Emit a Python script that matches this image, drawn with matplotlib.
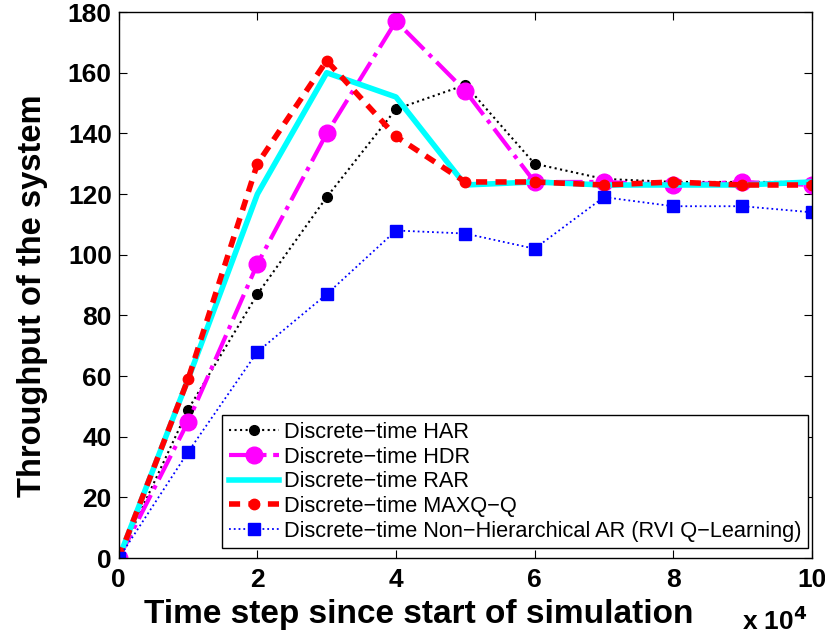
import matplotlib
matplotlib.use("Agg")
import matplotlib.pyplot as plt

plt.rcParams['font.family'] = ['Liberation Sans', 'DejaVu Sans']

steps = [0, 1, 2, 3, 4, 5, 6, 7, 8, 9, 10]
har = [0, 49, 87, 119, 148, 156, 130, 125, 124, 124, 124]
hdr = [0, 45, 97, 140, 177, 154, 124, 124, 123, 124, 123]
rar = [0, 59, 120, 160, 152, 123, 124, 123, 123, 123, 124]
maxq = [0, 59, 130, 164, 139, 124, 124, 123, 124, 123, 123]
rvi = [0, 35, 68, 87, 108, 107, 102, 119, 116, 116, 114]

labels = ['Discrete\u2212time HAR', 'Discrete\u2212time HDR', 'Discrete\u2212time RAR',
          'Discrete\u2212time MAXQ\u2212Q',
          'Discrete\u2212time Non\u2212Hierarchical AR (RVI Q\u2212Learning)']
xticks = [0, 2, 4, 6, 8, 10]
yticks = [0, 20, 40, 60, 80, 100, 120, 140, 160, 180]

fig = plt.figure(figsize=(8.25, 6.35), dpi=100)
ax = fig.add_axes([0.144, 0.121, 0.840, 0.860])

ax.plot(steps, har, color='black', linestyle=':', linewidth=1.5, marker='o', markersize=7,
        label=labels[0])
ax.plot(steps, hdr, color='magenta', linestyle='-.', linewidth=3, marker='o', markersize=12,
        label=labels[1])
ax.plot(steps, rar, color='cyan', linestyle='-', linewidth=4, label=labels[2])
ax.plot(steps, maxq, color='red', linestyle='--', linewidth=4, marker='o', markersize=7.5,
        dashes=(2, 1.5), label=labels[3])
ax.plot(steps, rvi, color='blue', linestyle=':', linewidth=1.3, marker='s', markersize=9,
        label=labels[4])

ax.set_xlim(0, 10)
ax.set_ylim(0, 180)
ax.set_xticks(xticks)
ax.set_yticks(yticks)
ax.tick_params(direction='in', top=True, right=True, length=6, labelsize=19)
ax.tick_params(axis='x', pad=7)
ax.tick_params(axis='y', pad=5)
for lab in ax.get_xticklabels() + ax.get_yticklabels():
    lab.set_fontweight('bold')
for s in ax.spines.values():
    s.set_linewidth(1.0)

ax.set_xlabel('Time step since start of simulation', fontsize=24, fontweight='bold')
ax.xaxis.set_label_coords(0.433, -0.075)
ax.set_ylabel('Throughput of the system', fontsize=23.5, fontweight='bold')
ax.yaxis.set_label_coords(-0.102, 0.48)
ax.text(0.994, -0.132, 'x 10$^{\\mathbf{4}}$', transform=ax.transAxes, ha='right', va='baseline',
        fontsize=19, fontweight='bold')

leg = ax.legend(loc='lower right', bbox_to_anchor=(0.995, 0.018), fontsize=15.7,
                frameon=True, fancybox=False, edgecolor='black', framealpha=1,
                borderaxespad=0, handlelength=2.3, labelspacing=0.17, borderpad=0.3,
                handletextpad=0.25)
leg.get_frame().set_linewidth(1.0)

fig.savefig('out.png', dpi=100)
